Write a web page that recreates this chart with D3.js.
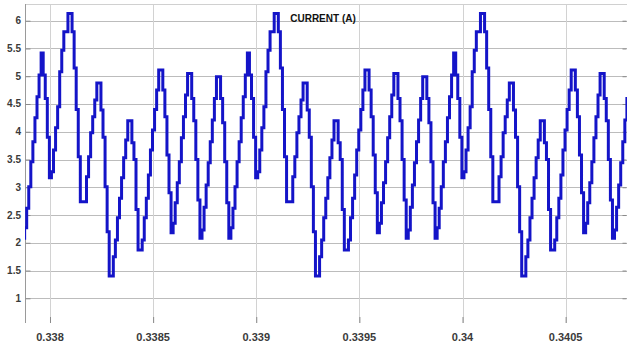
<!DOCTYPE html>
<html>
<head>
<meta charset="utf-8">
<script src="https://cdn.jsdelivr.net/npm/d3@7"></script>
<style>
  body { margin: 0; background: #fff; }
  svg { display: block; }
  text { font-family: "Liberation Sans", Arial, sans-serif; }
</style>
</head>
<body>
<div id="chart"></div>
<script>
// scope trace, sampled every 10 us (zero order hold)
const startTime = 0.337867;
const sampleTime = 1e-5;
const current = [
  2.08, 2.27, 2.62, 3.01, 3.46, 3.82, 4.25, 4.63, 5.02, 5.42,
  5.02, 4.6, 3.9, 3.17, 3.28, 3.67, 4.07, 4.45, 5.08, 5.47,
  5.8, 5.8, 6.13, 6.13, 5.8, 5.15, 4.4, 3.55, 2.74, 2.74,
  2.74, 3.19, 3.55, 3.98, 4.27, 4.57, 4.88, 4.88, 4.39, 3.9,
  3.01, 2.2, 1.4, 1.4, 1.75, 2.05, 2.45, 2.8, 3.17, 3.53,
  3.85, 4.2, 4.2, 3.8, 3.5, 2.6, 1.87, 1.87, 2.05, 2.45,
  2.8, 3.22, 3.67, 4.03, 4.4, 4.75, 5.11, 5.11, 4.75, 4.27,
  3.58, 2.9, 2.18, 2.35, 2.72, 3.08, 3.46, 3.89, 4.27, 4.66,
  5.05, 5.05, 4.6, 4.2, 3.5, 2.77, 2.08, 2.23, 2.64, 3.04,
  3.44, 3.82, 4.21, 4.6, 4.99, 4.99, 4.6, 4.16, 3.46, 2.72,

  2.08, 2.27, 2.62, 3.01, 3.46, 3.82, 4.25, 4.63, 5.02, 5.42,
  5.02, 4.6, 3.9, 3.17, 3.28, 3.67, 4.07, 4.45, 5.08, 5.47,
  5.8, 5.8, 6.13, 6.13, 5.8, 5.15, 4.4, 3.55, 2.74, 2.74,
  2.74, 3.19, 3.55, 3.98, 4.27, 4.57, 4.88, 4.88, 4.39, 3.9,
  3.01, 2.2, 1.4, 1.4, 1.75, 2.05, 2.45, 2.8, 3.17, 3.53,
  3.85, 4.2, 4.2, 3.8, 3.5, 2.6, 1.87, 1.87, 2.05, 2.45,
  2.8, 3.22, 3.67, 4.03, 4.4, 4.75, 5.11, 5.11, 4.75, 4.27,
  3.58, 2.9, 2.18, 2.35, 2.72, 3.08, 3.46, 3.89, 4.27, 4.66,
  5.05, 5.05, 4.6, 4.2, 3.5, 2.77, 2.08, 2.23, 2.64, 3.04,
  3.44, 3.82, 4.21, 4.6, 4.99, 4.99, 4.6, 4.16, 3.46, 2.72,

  2.08, 2.27, 2.62, 3.01, 3.46, 3.82, 4.25, 4.63, 5.02, 5.42,
  5.02, 4.6, 3.9, 3.17, 3.28, 3.67, 4.07, 4.45, 5.08, 5.47,
  5.8, 5.8, 6.13, 6.13, 5.8, 5.15, 4.4, 3.55, 2.74, 2.74,
  2.74, 3.19, 3.55, 3.98, 4.27, 4.57, 4.88, 4.88, 4.39, 3.9,
  3.01, 2.2, 1.4, 1.4, 1.75, 2.05, 2.45, 2.8, 3.17, 3.53,
  3.85, 4.2, 4.2, 3.8, 3.5, 2.6, 1.87, 1.87, 2.05, 2.45,
  2.8, 3.22, 3.67, 4.03, 4.4, 4.75, 5.11, 5.11, 4.75, 4.27,
  3.58, 2.9, 2.18, 2.35, 2.72, 3.08, 3.46, 3.89, 4.27, 4.66,
  5.05, 5.05, 4.6, 4.2, 3.5, 2.77, 2.08, 2.23, 2.64, 3.04,
  3.44, 3.82, 4.21, 4.6, 4.99, 4.99, 4.6, 4.16, 3.46, 2.72
];

const xTicks = [0.338, 0.3385, 0.339, 0.3395, 0.34, 0.3405];
const xTickLabels = ['0.338', '0.3385', '0.339', '0.3395', '0.34', '0.3405'];
const yTicks = [1, 1.5, 2, 2.5, 3, 3.5, 4, 4.5, 5, 5.5, 6];
const yTickLabels = ['1', '1.5', '2', '2.5', '3', '3.5', '4', '4.5', '5', '5.5', '6'];
const title = 'CURRENT (A)';

const width = 628, height = 347;
const plot = {left: 25, right: 627, top: 4, bottom: 323};

const svg = d3.select('#chart').append('svg')
  .attr('width', width)
  .attr('height', height);

const x = d3.scaleLinear().domain([0.3378788, 0.3407975]).range([plot.left, plot.right]);
const y = d3.scaleLinear().domain([0.555, 6.301]).range([plot.bottom, plot.top]);

// grid
svg.append('g')
  .selectAll('line')
  .data(yTicks)
  .enter().append('line')
  .attr('x1', plot.left).attr('x2', plot.right)
  .attr('y1', d => Math.round(y(d)) + 0.5).attr('y2', d => Math.round(y(d)) + 0.5)
  .attr('stroke', '#bcbcbc')
  .attr('stroke-width', 1);

svg.append('g')
  .selectAll('line')
  .data(xTicks)
  .enter().append('line')
  .attr('x1', d => Math.round(x(d)) + 0.5).attr('x2', d => Math.round(x(d)) + 0.5)
  .attr('y1', plot.top).attr('y2', plot.bottom)
  .attr('stroke', '#d2d2d2')
  .attr('stroke-width', 1);

// top border
svg.append('line')
  .attr('x1', plot.left).attr('x2', plot.right)
  .attr('y1', plot.top + 0.5).attr('y2', plot.top + 0.5)
  .attr('stroke', '#d0d0d0');

// axes with inward ticks
const yAxis = svg.append('g')
  .attr('transform', `translate(${plot.left + 0.5},0)`)
  .call(d3.axisRight(y).tickValues(yTicks).tickSize(5).tickFormat(''));
yAxis.select('.domain').attr('stroke', '#9a9a9a').attr('d', `M0,${plot.top}V${plot.bottom}`);
yAxis.selectAll('.tick line').attr('stroke', '#8a8a8a');

svg.append('g')
  .attr('transform', `translate(${plot.right - 0.5},0)`)
  .call(d3.axisLeft(y).tickValues(yTicks).tickSize(4).tickFormat(''))
  .call(g => g.select('.domain').remove())
  .selectAll('.tick line').attr('stroke', '#8a8a8a');

svg.append('g')
  .attr('transform', `translate(0,${plot.bottom})`)
  .call(d3.axisTop(x).tickValues(xTicks).tickSize(6).tickFormat(''))
  .call(g => g.select('.domain').remove())
  .selectAll('.tick line').attr('stroke', '#8a8a8a');

// tick labels
svg.append('g')
  .selectAll('text')
  .data(yTicks)
  .enter().append('text')
  .attr('x', plot.left - 4)
  .attr('y', d => y(d) + 3.5)
  .attr('text-anchor', 'end')
  .attr('font-size', 10)
  .attr('font-weight', 'bold')
  .attr('fill', '#3a3a3a')
  .text((d, i) => yTickLabels[i]);

svg.append('g')
  .selectAll('text')
  .data(xTicks)
  .enter().append('text')
  .attr('x', d => x(d))
  .attr('y', 341)
  .attr('text-anchor', 'middle')
  .attr('font-size', 11)
  .attr('font-weight', 'bold')
  .attr('fill', '#3a3a3a')
  .text((d, i) => xTickLabels[i]);

svg.append('text')
  .attr('x', 323)
  .attr('y', 21.5)
  .attr('text-anchor', 'middle')
  .attr('font-size', 10)
  .attr('font-weight', 'bold')
  .attr('fill', '#111')
  .text(title);

// waveform
svg.append('clipPath')
  .attr('id', 'clip')
  .append('rect')
  .attr('x', plot.left).attr('y', plot.top)
  .attr('width', plot.right - plot.left).attr('height', plot.bottom - plot.top);

const line = d3.line()
  .x((d, i) => x(startTime + i * sampleTime))
  .y(d => y(d))
  .curve(d3.curveStepAfter);

svg.append('path')
  .datum(current)
  .attr('clip-path', 'url(#clip)')
  .attr('fill', 'none')
  .attr('stroke', '#1414c8')
  .attr('stroke-width', 3)
  .attr('stroke-linejoin', 'miter')
  .attr('d', line);
</script>
</body>
</html>
